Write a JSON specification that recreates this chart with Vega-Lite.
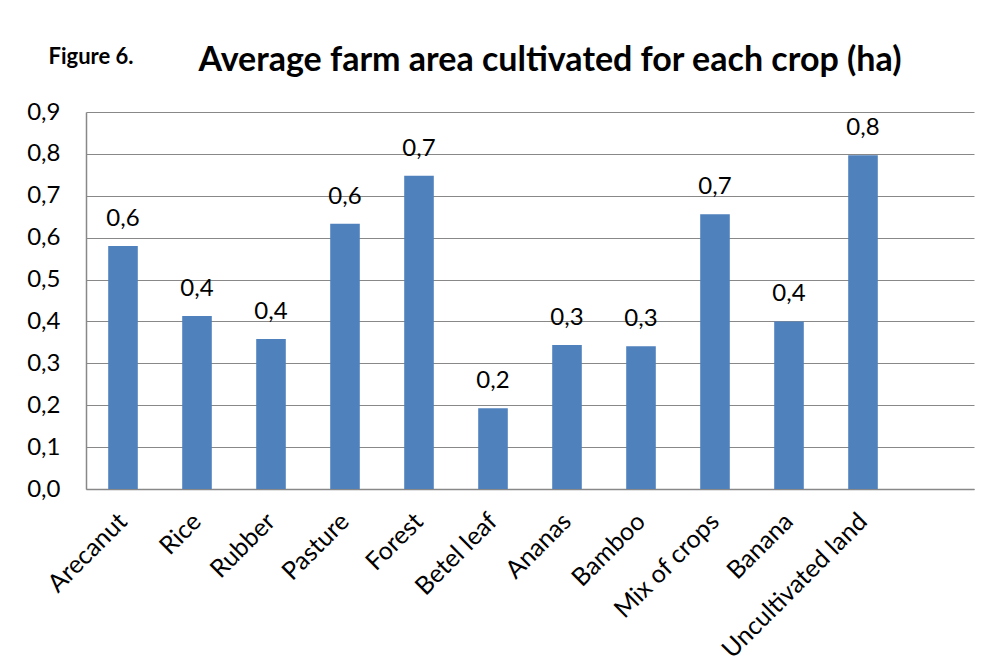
{
  "$schema": "https://vega.github.io/schema/vega-lite/v6.json",
  "width": 888,
  "height": 377,
  "autosize": {"type": "none"},
  "padding": {"left": 86, "top": 112, "right": 18, "bottom": 183},
  "background": "white",
  "title": {
    "text": "Average farm area cultivated for each crop (ha)",
    "frame": "group",
    "anchor": "middle",
    "dx": 20,
    "baseline": "alphabetic",
    "offset": -60,
    "font": "Lato",
    "fontSize": 34,
    "fontWeight": "bold",
    "color": "black"
  },
  "data": {
    "values": [
      {"crop": "Arecanut", "area": 0.58},
      {"crop": "Rice", "area": 0.413},
      {"crop": "Rubber", "area": 0.358},
      {"crop": "Pasture", "area": 0.633},
      {"crop": "Forest", "area": 0.748},
      {"crop": "Betel leaf", "area": 0.193},
      {"crop": "Ananas", "area": 0.344},
      {"crop": "Bamboo", "area": 0.341},
      {"crop": "Mix of crops", "area": 0.656},
      {"crop": "Banana", "area": 0.4},
      {"crop": "Uncultivated land", "area": 0.797}
    ]
  },
  "encoding": {
    "x": {
      "field": "crop",
      "type": "nominal",
      "sort": null,
      "scale": {
        "domain": ["Arecanut", "Rice", "Rubber", "Pasture", "Forest", "Betel leaf", "Ananas", "Bamboo", "Mix of crops", "Banana", "Uncultivated land", " "],
        "paddingInner": 0.6,
        "paddingOuter": 0.3
      },
      "axis": {
        "title": null,
        "labelAngle": -45,
        "labelAlign": "right",
        "labelBaseline": "middle",
        "labelFont": "Lato",
        "labelFontSize": 25,
        "labelColor": "black",
        "labelPadding": 28,
        "labelLimit": 0,
        "labelOverlap": false,
        "ticks": false,
        "domainColor": "#888888",
        "domainWidth": 1.5,
        "grid": false
      }
    },
    "y": {
      "field": "area",
      "type": "quantitative",
      "scale": {"domain": [0, 0.9], "nice": false},
      "axis": {
        "title": "Figure 6.",
        "titleAngle": 0,
        "titleAlign": "left",
        "titleBaseline": "alphabetic",
        "titleX": -38,
        "titleY": -49,
        "titleFont": "Lato",
        "titleFontSize": 22,
        "titleFontWeight": "bold",
        "titleColor": "black",
        "values": [0, 0.1, 0.2, 0.3, 0.4, 0.5, 0.6, 0.7, 0.8, 0.9],
        "format": ".1f",
        "labelFont": "Lato",
        "labelFontSize": 24,
        "labelColor": "black",
        "labelPadding": 26,
        "ticks": false,
        "domainColor": "#888888",
        "domainWidth": 1.5,
        "grid": true,
        "gridColor": "#888888",
        "gridWidth": 1
      }
    }
  },
  "layer": [
    {"mark": {"type": "bar", "color": "#4F81BD"}},
    {
      "mark": {"type": "text", "font": "Lato", "fontSize": 24, "color": "black", "baseline": "alphabetic", "dy": -20},
      "encoding": {"text": {"field": "area", "type": "quantitative", "format": ".1f"}}
    }
  ],
  "config": {
    "view": {"stroke": null},
    "locale": {"number": {"decimal": ",", "thousands": ".", "grouping": [3], "currency": ["", ""]}}
  }
}
